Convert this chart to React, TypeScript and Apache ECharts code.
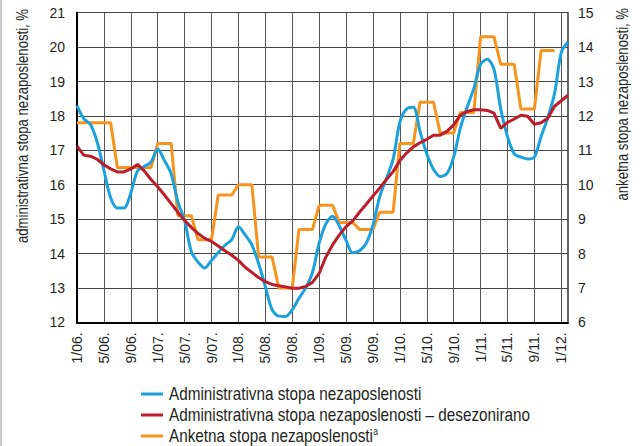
import React, { useEffect, useRef } from "react";
import * as echarts from "echarts";

const months: string[] = [
  "1/06.", "2/06.", "3/06.", "4/06.", "5/06.", "6/06.", "7/06.", "8/06.", "9/06.", "10/06.", "11/06.", "12/06.",
  "1/07.", "2/07.", "3/07.", "4/07.", "5/07.", "6/07.", "7/07.", "8/07.", "9/07.", "10/07.", "11/07.", "12/07.",
  "1/08.", "2/08.", "3/08.", "4/08.", "5/08.", "6/08.", "7/08.", "8/08.", "9/08.", "10/08.", "11/08.", "12/08.",
  "1/09.", "2/09.", "3/09.", "4/09.", "5/09.", "6/09.", "7/09.", "8/09.", "9/09.", "10/09.", "11/09.", "12/09.",
  "1/10.", "2/10.", "3/10.", "4/10.", "5/10.", "6/10.", "7/10.", "8/10.", "9/10.", "10/10.", "11/10.", "12/10.",
  "1/11.", "2/11.", "3/11.", "4/11.", "5/11.", "6/11.", "7/11.", "8/11.", "9/11.", "10/11.", "11/11.", "12/11.",
  "1/12.", "2/12.",
];

// Administrativna stopa nezaposlenosti (left axis, %)
const adminRate: number[] = [
  18.3, 17.92, 17.75, 17.24, 16.42, 15.62, 15.32, 15.32, 15.76, 16.4,
  16.53, 16.66, 17.04, 16.7, 16.32, 15.5, 14.96, 14.05, 13.75, 13.58,
  13.8, 14.03, 14.24, 14.4, 14.78, 14.54, 14.25, 13.71, 13.04, 12.37,
  12.18, 12.17, 12.36, 12.7, 13.0, 13.44, 14.3, 14.86, 15.08, 14.8,
  14.38, 14.02, 14.08, 14.3, 14.82, 15.65, 16.18, 16.74, 17.82, 18.2,
  18.25, 17.55, 16.9, 16.45, 16.24, 16.32, 16.8, 17.65, 18.25, 18.8,
  19.5, 19.65, 19.35, 18.2, 17.4, 16.9, 16.8, 16.75, 16.8, 17.4,
  17.95, 18.65, 19.85, 20.15,
];

// Administrativna stopa nezaposlenosti – desezonirano (left axis, %)
const adminSA: number[] = [
  17.12, 16.86, 16.83, 16.74, 16.58, 16.46, 16.37, 16.37, 16.46, 16.59,
  16.4, 16.15, 15.94, 15.7, 15.45, 15.2, 14.96, 14.76, 14.58, 14.44,
  14.35, 14.22, 14.08, 13.95, 13.8, 13.6, 13.45, 13.3, 13.18, 13.1,
  13.06, 13.03, 12.99, 12.99, 13.04, 13.16, 13.42, 13.9, 14.25, 14.54,
  14.78, 14.95, 15.2, 15.43, 15.67, 15.9, 16.15, 16.38, 16.7, 16.92,
  17.1, 17.22, 17.32, 17.44, 17.44, 17.55, 17.74, 18.02, 18.13, 18.18,
  18.18, 18.16, 18.08, 17.64, 17.81, 17.91, 18.02, 17.99, 17.76, 17.8,
  17.93, 18.28, 18.44, 18.6,
];

// Anketna stopa nezaposlenosti (right axis, %)
const surveyRate: (number | null)[] = [
  11.8, 11.8, 11.8, 11.8, 11.8, 11.8, 10.5, 10.5, 10.5, 10.5,
  10.5, 10.5, 11.2, 11.2, 11.2, 9.1, 9.1, 9.1, 8.4, 8.4,
  8.4, 9.7, 9.7, 9.7, 10.0, 10.0, 10.0, 7.9, 7.9, 7.9,
  7.0, 7.0, 7.0, 8.7, 8.7, 8.7, 9.4, 9.4, 9.4, 8.9,
  8.9, 8.9, 8.7, 8.7, 8.7, 9.2, 9.2, 9.2, 11.2, 11.2,
  11.2, 12.4, 12.4, 12.4, 11.5, 11.5, 11.5, 12.1, 12.1, 12.1,
  14.3, 14.3, 14.3, 13.5, 13.5, 13.5, 12.2, 12.2, 12.2, 13.9,
  13.9, 13.9, null, null,
];

const seriesNames: string[] = [
  "Administrativna stopa nezaposlenosti",
  "Administrativna stopa nezaposlenosti – desezonirano",
  "Anketna stopa nezaposlenosti",
];

const leftAxisName = "administrativna stopa nezaposlenosti, %";
const rightAxisName = "anketna stopa nezaposlenosti, %";

const FONT = "'Liberation Sans', Arial, sans-serif";
const TEXT = "#231f20";
const BLUE = "#1ba1db";
const RED = "#bb1e2a";
const ORANGE = "#f7941d";
const COLORS = [BLUE, RED, ORANGE];
const NARROW = 0.82;

export default function App() {
  const ref = useRef<HTMLDivElement>(null);

  useEffect(() => {
    if (!ref.current) return;
    const chart = echarts.init(ref.current, undefined, { renderer: "svg" });

    const legendRowsY = [394, 415, 436];
    const legendItems: any[] = seriesNames.map((name, k) => ({
      type: "group",
      x: 141,
      y: legendRowsY[k],
      children: [
        {
          type: "line",
          shape: { x1: 0, y1: 0, x2: 22, y2: 0 },
          style: { stroke: COLORS[k], lineWidth: 3 },
        },
        {
          type: "text",
          x: 28,
          y: 0,
          scaleX: 0.85,
          style: {
            text: k === 2 ? name + "{sup|a}" : name,
            fill: TEXT,
            font: `18px ${FONT}`,
            align: "left",
            verticalAlign: "middle",
            rich: {
              sup: { fontSize: 10, fontFamily: FONT, fill: TEXT, padding: [0, 0, 9, 0] },
            },
          },
        },
      ],
    }));

    chart.setOption({
      animation: false,
      backgroundColor: "#fff",
      textStyle: { fontFamily: FONT },
      grid: { left: 77, right: 72, top: 12.7, bottom: 123.7, containLabel: false },
      xAxis: {
        type: "category",
        data: months,
        boundaryGap: false,
        axisLine: { lineStyle: { color: "#000", width: 2 } },
        axisTick: { show: false },
        axisLabel: { interval: 3, rotate: 90, fontSize: 14, margin: 10, color: TEXT, fontFamily: FONT },
        splitLine: { show: true, interval: 3, lineStyle: { color: "#555", width: 1 } },
      },
      yAxis: [
        {
          type: "value",
          min: 12,
          max: 21,
          interval: 1,
          position: "left",
          axisLine: { show: true, lineStyle: { color: "#000", width: 2 } },
          axisTick: { show: false },
          axisLabel: { fontSize: 14, margin: 12, color: TEXT, fontFamily: FONT },
          splitLine: { show: true, lineStyle: { color: "#444", width: 1 } },
        },
        {
          type: "value",
          min: 6,
          max: 15,
          interval: 1,
          position: "right",
          axisLine: { show: true, lineStyle: { color: "#333", width: 1.5 } },
          axisTick: { show: false },
          axisLabel: { fontSize: 14, margin: 10, color: TEXT, fontFamily: FONT },
          splitLine: { show: false },
        },
      ],
      series: [
        {
          name: seriesNames[0],
          type: "line",
          data: adminRate,
          yAxisIndex: 0,
          showSymbol: false,
          smooth: 0.3,
          lineStyle: { color: BLUE, width: 3 },
          itemStyle: { color: BLUE },
          z: 3,
        },
        {
          name: seriesNames[1],
          type: "line",
          data: adminSA,
          yAxisIndex: 0,
          showSymbol: false,
          lineStyle: { color: RED, width: 3 },
          itemStyle: { color: RED },
          z: 4,
        },
        {
          name: seriesNames[2],
          type: "line",
          data: surveyRate,
          yAxisIndex: 1,
          showSymbol: false,
          lineStyle: { color: ORANGE, width: 3 },
          itemStyle: { color: ORANGE },
          z: 2,
        },
      ],
      graphic: [
        {
          type: "text",
          x: 23,
          y: 9,
          rotation: Math.PI / 2,
          scaleX: NARROW,
          style: { text: leftAxisName, fill: TEXT, font: `16px ${FONT}`, align: "right", verticalAlign: "middle" },
        },
        {
          type: "text",
          x: 623,
          y: 8,
          rotation: Math.PI / 2,
          scaleX: NARROW,
          style: { text: rightAxisName, fill: TEXT, font: `16px ${FONT}`, align: "right", verticalAlign: "middle" },
        },
        {
          type: "line",
          shape: { x1: 1, y1: 0, x2: 1, y2: 446 },
          style: { stroke: "#999", lineWidth: 1 },
        },
        ...legendItems,
      ],
    });
    return () => chart.dispose();
  }, []);

  return (
    <div
      ref={ref}
      style={{ position: "fixed", left: 0, top: 0, width: 640, height: 446 }}
    />
  );
}
